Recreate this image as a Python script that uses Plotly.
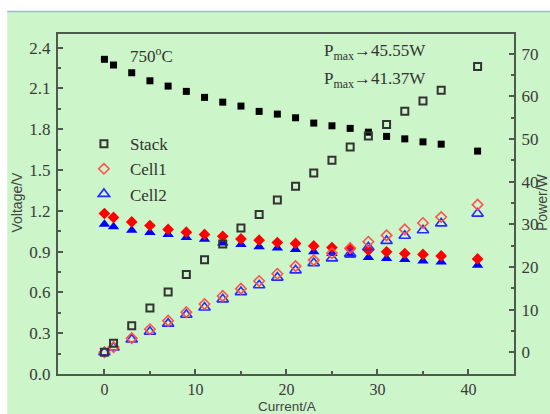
import plotly.graph_objects as go

# ---------------- data ----------------
current = [0, 1, 3, 5, 7, 9, 11, 13, 15, 17, 19, 21, 23, 25, 27, 29, 31, 33, 35, 37, 41]

stack_voltage = [2.314, 2.272, 2.215, 2.156, 2.117, 2.078, 2.034, 1.999, 1.970, 1.931, 1.911,
                 1.884, 1.845, 1.825, 1.806, 1.778, 1.747, 1.729, 1.707, 1.690, 1.639]
cell1_voltage = [1.180, 1.151, 1.118, 1.092, 1.063, 1.043, 1.026, 1.013, 0.993, 0.984, 0.967,
                 0.960, 0.942, 0.930, 0.921, 0.910, 0.898, 0.886, 0.879, 0.868, 0.846]
cell2_voltage = [1.102, 1.082, 1.057, 1.040, 1.026, 1.004, 0.991, 0.964, 0.952, 0.935, 0.927,
                 0.915, 0.898, 0.886, 0.873, 0.857, 0.849, 0.842, 0.831, 0.824, 0.800]

stack_power = [0.0, 2.1, 6.2, 10.4, 14.1, 18.2, 21.7, 25.4, 29.1, 32.3, 35.7,
               38.9, 42.0, 45.0, 48.1, 50.7, 53.4, 56.5, 58.9, 61.4, 67.0]
cell1_power = [0.0, 1.2, 3.3, 5.4, 7.4, 9.4, 11.3, 13.2, 14.9, 16.7, 18.4,
               20.2, 21.6, 23.2, 24.4, 25.9, 27.4, 28.8, 30.3, 31.7, 34.6]
cell2_power = [0.0, 1.1, 3.0, 4.8, 6.7, 8.8, 10.5, 12.4, 14.1, 15.7, 17.5,
               19.2, 20.9, 22.0, 23.1, 24.6, 26.1, 27.3, 28.6, 30.2, 32.5]

series_names = ["Stack", "Cell1", "Cell2"]
x_ticks = [0, 10, 20, 30, 40]
y_ticks = [0.0, 0.3, 0.6, 0.9, 1.2, 1.5, 1.8, 2.1, 2.4]
y2_ticks = [0, 10, 20, 30, 40, 50, 60, 70]

# ---------------- styling ----------------
BG = "#ccf5c9"
AXC = "#4f5a4f"
SERIF = "Liberation Serif, Times New Roman, serif"
SANS = "Liberation Sans, Arial, sans-serif"

fig = go.Figure()

# voltages (filled markers, left axis)
fig.add_trace(go.Scatter(x=current, y=cell2_voltage, mode="markers", showlegend=False,
                         marker=dict(symbol="triangle-up", size=10, color="#0000ff"), yaxis="y"))
fig.add_trace(go.Scatter(x=current, y=cell1_voltage, mode="markers", showlegend=False,
                         marker=dict(symbol="diamond", size=9, color="#ff0000"), yaxis="y"))
fig.add_trace(go.Scatter(x=current, y=stack_voltage, mode="markers", showlegend=False,
                         marker=dict(symbol="square", size=7, color="#000000"), yaxis="y"))

# powers (open markers, right axis) -> legend
fig.add_trace(go.Scatter(x=current, y=cell2_power, mode="markers", name=series_names[2],
                         legendrank=3,
                         marker=dict(symbol="triangle-up-open", size=10, color="#2a2aff",
                                     line=dict(width=1.6)), yaxis="y2"))
fig.add_trace(go.Scatter(x=current, y=cell1_power, mode="markers", name=series_names[1],
                         legendrank=2,
                         marker=dict(symbol="diamond-open", size=8, color="#ff5050",
                                     line=dict(width=1.6)), yaxis="y2"))
fig.add_trace(go.Scatter(x=current, y=stack_power, mode="markers", name=series_names[0],
                         legendrank=1,
                         marker=dict(symbol="square-open", size=7, color="#333333",
                                     line=dict(width=2)), yaxis="y2"))

tickfont = dict(family=SERIF, size=17, color="#3a3a3a")
xtickfont = dict(family=SERIF, size=16, color="#3a3a3a")

fig.update_layout(
    width=550, height=414,
    margin=dict(l=58, r=34, t=34, b=40),
    paper_bgcolor=BG, plot_bgcolor=BG,
    showlegend=True,
    legend=dict(x=0.0437, y=0.729, xanchor="left", yanchor="top",
                bgcolor="rgba(0,0,0,0)", borderwidth=0, itemwidth=42,
                font=dict(family=SERIF, size=17, color="#333333"),
                tracegroupgap=0, itemsizing="trace"),
    xaxis=dict(range=[-5.1, 45], tickvals=x_ticks, ticktext=[str(v) for v in x_ticks],
               showgrid=False, zeroline=False, showline=True, linecolor=AXC, linewidth=2,
               mirror=True, ticks="inside", ticklen=5, tickwidth=2, tickcolor=AXC,
               minor=dict(dtick=5, tick0=0, ticks="inside", ticklen=3, tickwidth=1.5,
                          tickcolor=AXC),
               tickfont=xtickfont),
    yaxis=dict(range=[0, 2.5], tickvals=y_ticks, ticktext=[f"{v:.1f}" for v in y_ticks],
               showgrid=False, zeroline=False, showline=True, linecolor=AXC, linewidth=2,
               ticks="inside", ticklen=5, tickwidth=2, tickcolor=AXC,
               minor=dict(dtick=0.15, tick0=0, ticks="inside", ticklen=3, tickwidth=1.5,
                          tickcolor=AXC),
               tickfont=tickfont, ticklabelstandoff=2),
    yaxis2=dict(range=[-5.1, 74.6], tickvals=y2_ticks, ticktext=[str(v) for v in y2_ticks],
                overlaying="y", side="right", anchor="x",
                showgrid=False, zeroline=False, showline=True, linecolor=AXC, linewidth=2,
                ticks="inside", ticklen=5, tickwidth=2, tickcolor=AXC,
                minor=dict(dtick=5, tick0=0, ticks="inside", ticklen=3, tickwidth=1.5,
                           tickcolor=AXC),
                tickfont=tickfont, ticklabelstandoff=2),
)

# white frame strip at top/left and thin blue rule (decorative page edge)
fig.add_shape(type="rect", xref="paper", yref="paper",
              x0=-0.2, x1=1.2, y0=1.0677, y1=1.2, fillcolor="white", line_width=0, layer="below")
fig.add_shape(type="rect", xref="paper", yref="paper",
              x0=-0.2, x1=-0.1113, y0=-0.2, y1=1.2, fillcolor="white", line_width=0, layer="below")
fig.add_shape(type="line", xref="paper", yref="paper",
              x0=-0.1113, x1=1.2, y0=1.0662, y1=1.0662, line=dict(color="#9cb8e0", width=1.5))

# axis titles and annotations
fig.add_annotation(text="Voltage/V", xref="paper", yref="paper", x=-0.0895, y=0.505,
                   textangle=-90, showarrow=False, xanchor="center", yanchor="middle",
                   font=dict(family=SANS, size=14, color="#444444"))
fig.add_annotation(text="Power/W", xref="paper", yref="paper", x=1.063, y=0.505,
                   textangle=-90, showarrow=False, xanchor="center", yanchor="middle",
                   font=dict(family=SANS, size=14, color="#444444"))
fig.add_annotation(text="Current/A", xref="paper", yref="paper", x=0.502, y=-0.095,
                   showarrow=False, xanchor="center", yanchor="middle", borderpad=0,
                   font=dict(family=SANS, size=13.5, color="#444444"))
fig.add_annotation(text="750<sup>o</sup>C", xref="paper", yref="paper", x=0.153, y=0.938,
                   showarrow=False, xanchor="left", yanchor="middle",
                   font=dict(family=SERIF, size=17, color="#333333"))
fig.add_annotation(text="P<sub>max</sub>→45.55W", xref="paper", yref="paper", x=0.579, y=0.947,
                   showarrow=False, xanchor="left", yanchor="middle",
                   font=dict(family=SERIF, size=17, color="#333333"))
fig.add_annotation(text="P<sub>max</sub>→41.37W", xref="paper", yref="paper", x=0.579, y=0.865,
                   showarrow=False, xanchor="left", yanchor="middle",
                   font=dict(family=SERIF, size=17, color="#333333"))

fig.write_html("out.html")
